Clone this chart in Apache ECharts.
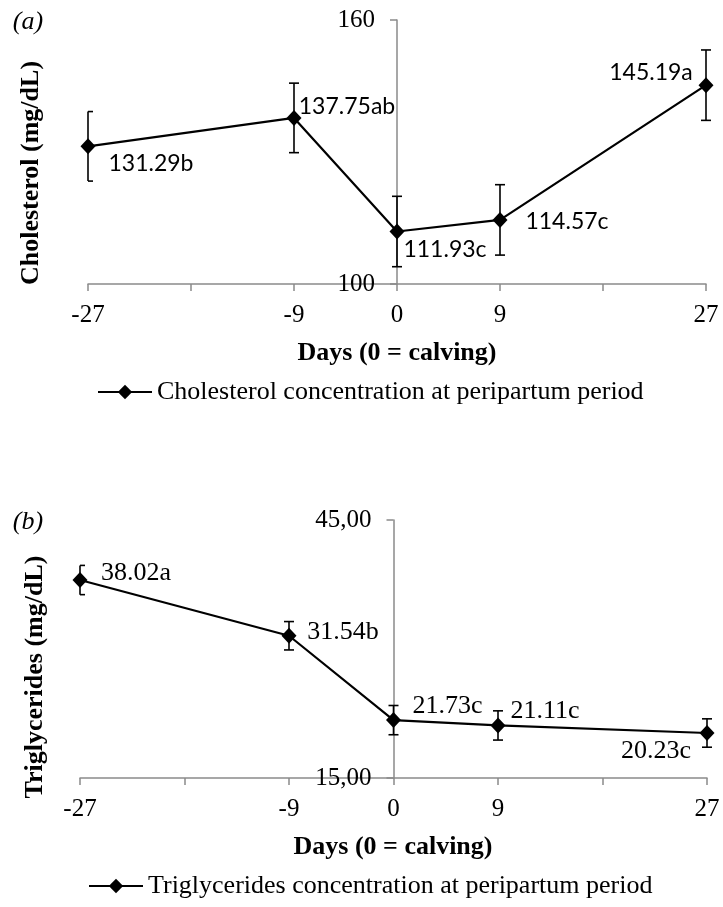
<!DOCTYPE html>
<html><head><meta charset="utf-8">
<script src="https://cdn.jsdelivr.net/npm/echarts@6/dist/echarts.min.js"></script>
<style>html,body{margin:0;padding:0;background:#fff}#c{width:723px;height:907px}</style>
</head><body><div id="c"></div>
<script>
// ---- data ----
const days = [-27, -9, 0, 9, 27];
const xTickLabels = [-27, -9, 0, 9, 27];
const cholMean = [131.29, 137.75, 111.93, 114.57, 145.19];
const cholSE = [7.9, 7.9, 8.0, 8.0, 8.0];
const cholLetters = ['b', 'ab', 'c', 'c', 'a'];
const cholYTicks = [100, 160];
const trigMean = [38.02, 31.54, 21.73, 21.11, 20.23];
const trigSE = [1.7, 1.65, 1.7, 1.7, 1.65];
const trigLetters = ['a', 'b', 'c', 'c', 'c'];
const trigYTicks = [15, 45];
const cholName = 'Cholesterol concentration at peripartum period';
const trigName = 'Triglycerides concentration at peripartum period';

// ---- style config ----
const SERIF = 'Liberation Serif, Times New Roman, serif';
const SANS = 'Lato, Open Sans, sans-serif';
const AXC = '#8a8a8a';
const cholLabelOffsets = [[63, 17], [53, -11], [48, 18], [67, 2], [-55, -13]];
const trigLabelOffsets = [[56, -7], [54, -4], [54, -14], [47, -14], [-51, 18]];
const grids = [
  { left: 88, right: 17, top: 20, height: 264 },
  { left: 80, right: 16, top: 520, height: 258 }
];

function errRender(params, api) {
  const x = api.value(0), lo = api.value(1), hi = api.value(2);
  const a = api.coord([x, lo]), b = api.coord([x, hi]);
  const cs = params.coordSys;
  const cap = 5;
  const l = Math.max(a[0] - cap, cs.x), r = a[0] + cap;
  const style = { stroke: '#000', lineWidth: 1.6 };
  return { type: 'group', children: [
    { type: 'line', shape: { x1: a[0], y1: a[1], x2: b[0], y2: b[1] }, style },
    { type: 'line', shape: { x1: l, y1: b[1], x2: r, y2: b[1] }, style },
    { type: 'line', shape: { x1: l, y1: a[1], x2: r, y2: a[1] }, style }
  ]};
}

function xAxisCfg(gi) {
  return {
    type: 'value', gridIndex: gi, min: -27, max: 27, interval: 9,
    axisLine: { onZero: false, lineStyle: { color: AXC, width: 1.5 } },
    axisTick: { show: true, length: 7, lineStyle: { color: AXC, width: 1.5 } },
    axisLabel: { customValues: xTickLabels, color: '#000', fontFamily: SERIF, fontSize: 25, margin: 19 },
    splitLine: { show: false }
  };
}
// y axis crosses the x axis at day 0: shift it from the grid's left edge to the zero position
function zeroOffset(g) {
  const w = 723 - g.left - g.right;
  return -w * (0 - (-27)) / 54;
}

const chart = echarts.init(document.getElementById('c'), null, { renderer: 'canvas' });
chart.setOption({
  animation: false,
  backgroundColor: '#fff',
  grid: grids.map(g => Object.assign({ outerBoundsMode: 'none' }, g)),
  xAxis: [xAxisCfg(0), xAxisCfg(1)],
  yAxis: [
    {
      type: 'value', gridIndex: 0, min: 100, max: 160, interval: 60, offset: zeroOffset(grids[0]),
      axisLine: { show: true, onZero: false, lineStyle: { color: AXC, width: 1.5 } },
      axisTick: { show: true, length: 7, lineStyle: { color: AXC, width: 1.5 } },
      axisLabel: { color: '#000', fontFamily: SERIF, fontSize: 25, margin: 22 },
      splitLine: { show: false }
    },
    {
      type: 'value', gridIndex: 1, min: 15, max: 45, interval: 15, offset: zeroOffset(grids[1]),
      axisLine: { show: true, onZero: false, lineStyle: { color: AXC, width: 1.5 } },
      axisTick: { show: true, length: 7, customValues: trigYTicks, lineStyle: { color: AXC, width: 1.5 } },
      axisLabel: { customValues: trigYTicks, color: '#000', fontFamily: SERIF, fontSize: 25, margin: 22,
        formatter: v => v.toFixed(2).replace('.', ',') },
      splitLine: { show: false }
    }
  ],
  legend: [
    { data: [cholName], left: 97, top: 379, itemWidth: 54, itemHeight: 18, padding: 0,
      textStyle: { fontFamily: SERIF, fontSize: 26, color: '#000' } },
    { data: [trigName], left: 88, top: 873, itemWidth: 54, itemHeight: 18, padding: 0,
      textStyle: { fontFamily: SERIF, fontSize: 26, color: '#000' } }
  ],
  series: [
    {
      type: 'custom', name: 'cholErr', xAxisIndex: 0, yAxisIndex: 0, renderItem: errRender,
      data: days.map((d, i) => [d, cholMean[i] - cholSE[i], cholMean[i] + cholSE[i]]), z: 2, silent: true
    },
    {
      type: 'line', name: cholName, xAxisIndex: 0, yAxisIndex: 0, z: 3,
      symbol: 'diamond', symbolSize: [15, 16], clip: false,
      lineStyle: { color: '#000', width: 2.2 }, itemStyle: { color: '#000' },
      label: { show: true, position: 'inside', fontFamily: SANS, fontSize: 23, color: '#000',
        formatter: p => cholMean[p.dataIndex].toFixed(2) + cholLetters[p.dataIndex] },
      data: days.map((d, i) => ({ value: [d, cholMean[i]], label: { offset: cholLabelOffsets[i] } }))
    },
    {
      type: 'custom', name: 'trigErr', xAxisIndex: 1, yAxisIndex: 1, renderItem: errRender,
      data: days.map((d, i) => [d, trigMean[i] - trigSE[i], trigMean[i] + trigSE[i]]), z: 2, silent: true
    },
    {
      type: 'line', name: trigName, xAxisIndex: 1, yAxisIndex: 1, z: 3,
      symbol: 'diamond', symbolSize: [15, 16], clip: false,
      lineStyle: { color: '#000', width: 2.2 }, itemStyle: { color: '#000' },
      label: { show: true, position: 'inside', fontFamily: SERIF, fontSize: 26, color: '#000',
        formatter: p => trigMean[p.dataIndex].toFixed(2) + trigLetters[p.dataIndex] },
      data: days.map((d, i) => ({ value: [d, trigMean[i]], label: { offset: trigLabelOffsets[i] } }))
    }
  ],
  graphic: [
    { type: 'text', x: 28, y: 22, style: { text: '(a)', font: 'italic 26px ' + SERIF, fill: '#000', align: 'center', verticalAlign: 'middle' } },
    { type: 'text', x: 31, y: 173, rotation: Math.PI / 2, style: { text: 'Cholesterol (mg/dL)', font: 'bold 26px ' + SERIF, fill: '#000', align: 'center', verticalAlign: 'middle' } },
    { type: 'text', x: 397, y: 353, style: { text: 'Days (0 = calving)', font: 'bold 26px ' + SERIF, fill: '#000', align: 'center', verticalAlign: 'middle' } },
    { type: 'text', x: 28, y: 522, style: { text: '(b)', font: 'italic 26px ' + SERIF, fill: '#000', align: 'center', verticalAlign: 'middle' } },
    { type: 'text', x: 35, y: 677, rotation: Math.PI / 2, style: { text: 'Triglycerides (mg/dL)', font: 'bold 26px ' + SERIF, fill: '#000', align: 'center', verticalAlign: 'middle' } },
    { type: 'text', x: 393, y: 847, style: { text: 'Days (0 = calving)', font: 'bold 26px ' + SERIF, fill: '#000', align: 'center', verticalAlign: 'middle' } }
  ]
});
</script>
</body></html>
